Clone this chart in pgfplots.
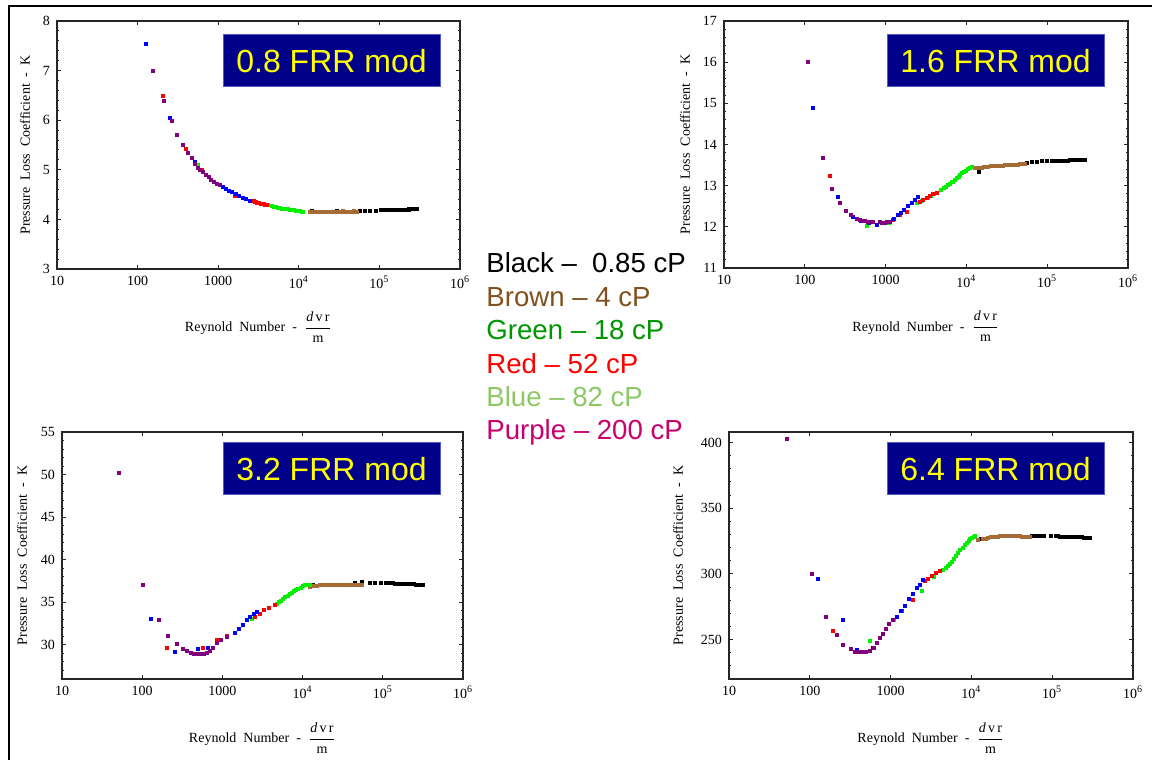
\documentclass[border=0pt]{standalone}
\usepackage{pgfplots}
\pgfplotsset{compat=1.18}
\usepackage{fontspec}
\setmainfont{Liberation Serif}
\newfontfamily\arial{Liberation Sans}
\definecolor{pbrown}{RGB}{166,108,54}
\definecolor{ppurple}{RGB}{128,0,128}
\definecolor{pgreen}{RGB}{0,240,0}
\definecolor{pblue}{RGB}{0,0,255}
\definecolor{pred}{RGB}{255,0,0}
\definecolor{navybox}{RGB}{0,0,136}
\definecolor{navyedge}{RGB}{80,90,200}
\definecolor{ttl}{RGB}{255,255,0}
\definecolor{lbrown}{RGB}{128,80,30}
\definecolor{lgreen}{RGB}{0,150,0}
\definecolor{lred}{RGB}{255,0,0}
\definecolor{lblue}{RGB}{140,200,100}
\definecolor{lpurple}{RGB}{200,0,110}
\pgfplotsset{
  /pgfplots/frr/.style={
    scale only axis, anchor=south west,
    xmin=10, xmax=1e6,
    xtick={10,100,1000,10000,100000,1000000},
    xticklabels={10,100,1000,10\textsuperscript{4},10\textsuperscript{5},10\textsuperscript{6}},
    xminorticks=false,
    minor y tick num=4,
    tick align=inside,
    major tick length=2pt, minor tick length=1pt,
    axis line style={line width=0.7pt, black!85},
    tick style={black!85, line width=0.5pt},
    ticklabel style={font=\fontsize{7}{8}\selectfont},
    /pgf/number format/assume math mode=true,
    ylabel={Pressure\ \ Loss\ \ Coefficient\ \ -\ \ K},
    xlabel={Reynold\ \ Number\ \ -\ \ $\displaystyle\frac{\mbox{\itshape d\,\upshape v\,r}}{\mbox{m}}$},
    label style={font=\fontsize{7}{8.5}\selectfont},
  },
}
\tikzset{
  ttlbox/.style={fill=navybox, draw=navyedge, line width=0.5pt, text=ttl,
    minimum width=108.5pt, minimum height=26pt, inner sep=0pt,
    font=\arial\fontsize{16}{18}\selectfont},
  leg/.style={anchor=base west, inner sep=0pt, font=\arial\fontsize{13.8}{16}\selectfont},
  pt/.style={only marks, mark=square*, mark size=0.75pt, #1},
}
\begin{document}
\begin{tikzpicture}
\useasboundingbox (0,0) rectangle (576pt,380pt);
\draw[line width=1pt] (4.5pt,0pt) -- (4.5pt,377pt) -- (580pt,377pt);

% ---------------- 0.8 FRR ----------------
\begin{semilogxaxis}[frr, at={(28.5pt,245.5pt)}, width=201.5pt, height=124pt,
  ymin=3, ymax=8, ytick={3,4,5,6,7,8},
  ylabel style={at={(axis description cs:-0.0794,0.5)}, anchor=center},
  xlabel style={at={(axis description cs:0.5,-0.234)}, anchor=center}]
\addplot[pt=black] coordinates {(14500,4.18)(30000,4.18)(57500,4.18)(66000,4.18)(76000,4.18)(90000,4.18)(105000,4.19)(118000,4.19)(122000,4.19)(125000,4.19)(130000,4.19)(135000,4.19)(140000,4.19)(145000,4.20)(150000,4.20)(155000,4.20)(160000,4.20)(165000,4.20)(170000,4.20)(175000,4.20)(180000,4.20)(190000,4.20)(200000,4.20)(210000,4.20)(220000,4.20)(230000,4.20)(235000,4.21)(245000,4.21)(255000,4.21)(260000,4.21)(270000,4.21)(280000,4.21)(285000,4.21)(293000,4.21)};
\addplot[pt=pbrown] coordinates {(13770,4.16)(14500,4.16)(15500,4.15)(16500,4.15)(17500,4.15)(18500,4.15)(19500,4.15)(20500,4.15)(22000,4.16)(23500,4.16)(25000,4.16)(26500,4.16)(28000,4.16)(29500,4.16)(31000,4.16)(33000,4.16)(35000,4.17)(37000,4.16)(39000,4.16)(41500,4.16)(44000,4.16)(46000,4.16)(48000,4.17)(50500,4.16)(52700,4.16)};
\addplot[pt=pgreen] coordinates {(557,5.10)(1148,4.66)(4170,4.29)(4600,4.27)(4900,4.26)(5200,4.25)(5550,4.24)(5900,4.23)(6250,4.22)(6600,4.22)(7000,4.21)(7400,4.21)(7850,4.20)(8300,4.19)(8800,4.19)(9300,4.18)(9850,4.17)(10400,4.17)(10900,4.16)(11380,4.16)};
\addplot[pt=pred] coordinates {(205,6.49)(398,5.43)(623,5.00)(1620,4.48)(2750,4.37)(2850,4.36)(2950,4.35)(3050,4.34)(3200,4.33)(3350,4.32)(3500,4.31)(3650,4.31)(3800,4.30)(4000,4.29)};
\addplot[pt=pblue] coordinates {(127,7.53)(255,6.04)(515,5.16)(1150,4.65)(1250,4.62)(1350,4.58)(1500,4.55)(1650,4.51)(1800,4.48)(2000,4.44)(2200,4.41)(2450,4.38)};
\addplot[pt=ppurple] coordinates {(157,7.00)(211,6.39)(269,5.98)(311,5.70)(369,5.51)(417,5.34)(469,5.23)(520,5.12)(566,5.03)(600,4.99)(645,4.96)(700,4.90)(760,4.85)(820,4.80)(880,4.76)(950,4.72)(1047,4.69)};
\end{semilogxaxis}

% ---------------- 1.6 FRR ----------------
\begin{semilogxaxis}[frr, at={(362pt,246pt)}, width=202pt, height=123.5pt,
  ymin=11, ymax=17, ytick={11,12,...,17},
  ylabel style={at={(axis description cs:-0.0965,0.5)}, anchor=center},
  xlabel style={at={(axis description cs:0.5,-0.236)}, anchor=center}]
\addplot[pt=black] coordinates {(14400,13.34)(55700,13.56)(65000,13.58)(75000,13.58)(85000,13.59)(100000,13.59)(115000,13.60)(122000,13.60)(130000,13.60)(140000,13.60)(150000,13.61)(160000,13.61)(170000,13.61)(180000,13.61)(190000,13.62)(200000,13.62)(215000,13.62)(228000,13.62)(240000,13.63)(252000,13.63)(265000,13.63)(280000,13.63)(294000,13.63)};
\addplot[pt=pbrown] coordinates {(12780,13.42)(13300,13.42)(14000,13.43)(14700,13.44)(15500,13.44)(16500,13.45)(17500,13.46)(18700,13.46)(20000,13.47)(21500,13.48)(23000,13.48)(24500,13.48)(26000,13.49)(28000,13.49)(30000,13.50)(32000,13.50)(34000,13.50)(36000,13.50)(38000,13.51)(40500,13.51)(43000,13.51)(45500,13.52)(48000,13.52)(50500,13.52)(53100,13.52)};
\addplot[pt=pgreen] coordinates {(583,12.03)(1100,12.10)(2427,12.57)(2800,12.62)(3300,12.70)(3600,12.74)(4000,12.79)(4300,12.83)(4900,12.90)(5200,12.94)(5500,12.98)(5850,13.01)(6200,13.05)(6550,13.08)(6890,13.10)(7250,13.14)(7600,13.18)(8000,13.22)(8400,13.26)(8850,13.30)(9300,13.33)(9800,13.37)(10300,13.40)(10900,13.43)(11620,13.46)};
\addplot[pt=pred] coordinates {(207,13.24)(1245,12.17)(1500,12.28)(1820,12.37)(2670,12.61)(2900,12.66)(3200,12.71)(3500,12.75)(3900,12.80)(4290,12.83)};
\addplot[pt=pblue] coordinates {(127,14.89)(260,12.72)(398,12.25)(500,12.15)(620,12.10)(775,12.05)(1132,12.13)(1250,12.20)(1400,12.28)(1550,12.35)(1700,12.42)(1900,12.50)(2100,12.58)(2300,12.65)(2540,12.73)};
\addplot[pt=ppurple] coordinates {(109,16.0)(166,13.68)(217,12.91)(275,12.59)(318,12.39)(370,12.29)(440,12.20)(480,12.17)(520,12.15)(560,12.14)(600,12.12)(650,12.12)(700,12.11)(850,12.11)(900,12.10)(980,12.10)(1050,12.12)(1100,12.13)};
\end{semilogxaxis}

% ---------------- 3.2 FRR ----------------
\begin{semilogxaxis}[frr, at={(31pt,40.5pt)}, width=200.5pt, height=123.5pt,
  ymin=26, ymax=55, ytick={30,35,...,55}, minor ytick={26,27,28,29,31,32,33,34,36,37,38,39,41,42,43,44,46,47,48,49,51,52,53,54},
  ylabel style={at={(axis description cs:-0.0998,0.5)}, anchor=center},
  xlabel style={at={(axis description cs:0.5,-0.239)}, anchor=center}]
\addplot[pt=black] coordinates {(13500,37.0)(44800,37.3)(55000,37.35)(70000,37.3)(80000,37.3)(95000,37.3)(110000,37.25)(117000,37.25)(125000,37.25)(132000,37.25)(140000,37.2)(150000,37.2)(160000,37.2)(170000,37.2)(180000,37.2)(190000,37.2)(200000,37.15)(215000,37.15)(230000,37.15)(245000,37.15)(260000,37.1)(280000,37.1)(300000,37.1)(320000,37.1)};
\addplot[pt=pbrown] coordinates {(12300,36.8)(14000,36.9)(15200,36.95)(16500,37.0)(18000,37.05)(19500,37.1)(21000,37.1)(23000,37.1)(25000,37.1)(27000,37.1)(29500,37.1)(32000,37.1)(35000,37.1)(38000,37.1)(41500,37.1)(45000,37.1)(49500,37.1)(54600,37.1)};
\addplot[pt=pgreen] coordinates {(2339,33.1)(4790,34.85)(5100,35.0)(5400,35.2)(5750,35.4)(6100,35.6)(6500,35.8)(6900,36.0)(7350,36.15)(7800,36.3)(8300,36.45)(8800,36.6)(9400,36.75)(10000,36.9)(10600,37.0)(11200,37.1)(12390,37.1)};
\addplot[pt=pred] coordinates {(202,29.6)(578,29.7)(849,30.6)(1132,31.1)(2570,33.3)(2900,33.7)(3300,34.1)(3800,34.4)(4570,34.65)};
\addplot[pt=pblue] coordinates {(128,33.1)(256,29.15)(500,29.5)(668,29.7)(1435,31.4)(1600,31.9)(1800,32.4)(2000,32.9)(2200,33.3)(2450,33.7)(2680,33.9)};
\addplot[pt=ppurple] coordinates {(51.8,50.15)(103,37.1)(163,32.9)(208,31.1)(269,30.1)(320,29.5)(360,29.3)(400,29.1)(440,28.9)(480,28.9)(530,28.9)(580,29.0)(640,29.1)(700,29.3)(769,29.6)(849,30.2)(950,30.6)(1132,31.0)};
\end{semilogxaxis}

% ---------------- 6.4 FRR ----------------
\begin{semilogxaxis}[frr, at={(364.5pt,40.5pt)}, width=202pt, height=123.5pt,
  ymin=220, ymax=408, ytick={250,300,350,400}, minor ytick={220,230,240,260,270,280,290,310,320,330,340,360,370,380,390},
  ylabel style={at={(axis description cs:-0.126,0.5)}, anchor=center},
  xlabel style={at={(axis description cs:0.5,-0.239)}, anchor=center}]
\addplot[pt=black] coordinates {(13000,327)(55700,329)(62000,329)(70000,329)(80000,329)(95000,329)(110000,329)(118000,329)(125000,328.5)(135000,328.5)(145000,328.5)(155000,328.5)(165000,328.5)(177000,328.2)(190000,328)(202000,328)(215000,328)(230000,327.8)(245000,327.5)(258000,327.5)(270000,327.5)(282000,327.5)(294000,327.5)};
\addplot[pt=pbrown] coordinates {(12200,326)(14000,326.5)(15000,327)(16000,327.5)(17200,327.8)(18500,328)(19700,328.3)(21000,328.5)(22500,328.8)(24000,329)(26000,329)(28000,329)(30000,329)(32000,329)(34500,329)(37000,329)(39500,328.8)(42000,328.5)(44500,328.5)(47000,328.5)(50000,328.2)(53000,328)};
\addplot[pt=pgreen] coordinates {(556,248.7)(1100,265)(2427,286.8)(3390,298)(4500,303.3)(4800,304.5)(5100,306)(5450,307.5)(5800,309)(6150,311.5)(6500,314)(6900,316)(7300,318)(7750,320)(8200,322)(8700,323.5)(9200,325)(9700,326.3)(10200,327.5)(10650,328)(11090,328.7)};
\addplot[pt=pred] coordinates {(195,256.3)(1371,271.5)(1907,280.4)(2670,294.4)(2900,296.5)(3200,298.5)(3600,300.5)(4090,302.5)};
\addplot[pt=pblue] coordinates {(127,296.2)(260,264.7)(387,242.4)(611,243.7)(1190,267.3)(1350,272)(1500,276)(1700,281)(1900,285)(2100,289)(2300,292)(2540,295.2)};
\addplot[pt=ppurple] coordinates {(52.7,402.8)(105,300.2)(158.5,267.3)(215,253.3)(260,245.7)(321,242.9)(363,241)(400,241)(450,241)(500,241)(556,241.5)(620,244)(677,247.5)(740,251)(800,254)(870,258)(950,262)(1080,265.2)};
\end{semilogxaxis}

% title boxes
\node[ttlbox] at (165.75pt,349.5pt) {0.8 FRR mod};
\node[ttlbox] at (497.75pt,349.5pt) {1.6 FRR mod};
\node[ttlbox] at (165.75pt,145.5pt) {3.2 FRR mod};
\node[ttlbox] at (497.75pt,145.5pt) {6.4 FRR mod};

% viscosity key
\node[leg, text=black]   at (243pt,243.5pt) {Black –\ \ 0.85 cP};
\node[leg, text=lbrown]  at (243pt,226.8pt) {Brown – 4 cP};
\node[leg, text=lgreen]  at (243pt,210.1pt) {Green – 18 cP};
\node[leg, text=lred]    at (243pt,193.4pt) {Red – 52 cP};
\node[leg, text=lblue]   at (243pt,176.7pt) {Blue – 82 cP};
\node[leg, text=lpurple] at (243pt,160.0pt) {Purple – 200 cP};
\end{tikzpicture}
\end{document}
